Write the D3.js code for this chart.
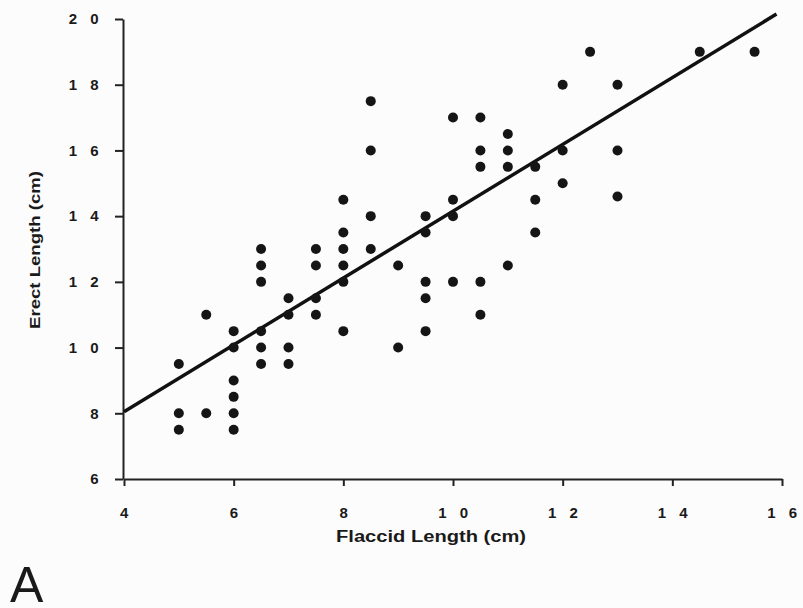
<!DOCTYPE html>
<html lang="en">
<head>
    <meta charset="UTF-8">
    <script type="text/javascript" src="https://cdn.jsdelivr.net/npm/d3@7/dist/d3.min.js"></script>
    <title>Flaccid vs Erect Length</title>
    <style>
        body { margin: 0; background: #fcfcfc; }
        text { font-family: "Liberation Sans", Arial, sans-serif; fill: #1a1a1a; }
    </style>
</head>
<body>

</body>
<script>
    // data (cm)
    var flaccid = [5, 5, 5, 5.5, 5.5, 6, 6, 6, 6, 6, 6,
        6.5, 6.5, 6.5, 6.5, 6.5, 6.5, 7, 7, 7, 7, 7.5, 7.5, 7.5, 7.5,
        8, 8, 8, 8, 8, 8, 8.5, 8.5, 8.5, 8.5, 9, 9,
        9.5, 9.5, 9.5, 9.5, 9.5, 10, 10, 10, 10,
        10.5, 10.5, 10.5, 10.5, 10.5, 11, 11, 11, 11,
        11.5, 11.5, 11.5, 12, 12, 12, 12.5, 13, 13, 13, 14.5, 15.5];
    var erect = [9.5, 8, 7.5, 11, 8, 10.5, 10, 9, 8.5, 8, 7.5,
        13, 12.5, 12, 10.5, 10, 9.5, 11.5, 11, 10, 9.5, 13, 12.5, 11.5, 11,
        14.5, 13.5, 13, 12.5, 12, 10.5, 17.5, 16, 14, 13, 12.5, 10,
        14, 13.5, 12, 11.5, 10.5, 17, 14.5, 14, 12,
        17, 16, 15.5, 12, 11, 16.5, 16, 15.5, 12.5,
        15.5, 14.5, 13.5, 18, 16, 15, 19, 18, 16, 14.6, 19, 19];
    var fitX = [4, 15.9];      // regression line ends
    var fitY = [8.05, 20.15];
    var xTicks = [4, 6, 8, 10, 12, 14, 16];
    var yTicks = [6, 8, 10, 12, 14, 16, 18, 20];

    var width = 803, height = 608;

    var xScale = d3.scaleLinear().domain([4, 16]).range([124, 782]);
    var yScale = d3.scaleLinear().domain([6, 20]).range([479, 19]);

    var svg = d3.select("body")
        .append("svg")
        .attr("width", width)
        .attr("height", height)

    // spaced digits like the original ("1 0")
    var spaced = d => String(d).split("").join(" ");

    var xAxis = svg.append("g")
        .attr("transform", "translate(0," + 479 + ")")
        .call(d3.axisBottom(xScale).tickValues(xTicks).tickSize(7).tickSizeOuter(0).tickPadding(21).tickFormat(spaced))
    var yAxis = svg.append("g")
        .attr("transform", "translate(" + 123 + ",0)")
        .call(d3.axisLeft(yScale).tickValues(yTicks).tickSize(8).tickSizeOuter(0).tickPadding(12).tickFormat(spaced))

    svg.selectAll(".domain, .tick line")
        .attr("stroke", "#222")
        .attr("stroke-width", 2)
    svg.selectAll(".tick text")
        .attr("font-size", 15)
        .attr("font-weight", "bold")
        .style("fill", "#1a1a1a")
        .style("letter-spacing", "4.5px")
        .attr("font-family", "Liberation Sans, Arial, sans-serif")
    xAxis.selectAll(".tick text").attr("dx", 2)

    // axis titles
    svg.append("text")
        .attr("x", 431)
        .attr("y", 542)
        .attr("text-anchor", "middle")
        .attr("font-size", 16)
        .attr("font-weight", "bold")
        .attr("textLength", 190)
        .attr("lengthAdjust", "spacingAndGlyphs")
        .text("Flaccid Length (cm)")

    svg.append("text")
        .attr("transform", "translate(40,250) rotate(-90)")
        .attr("text-anchor", "middle")
        .attr("font-size", 15)
        .attr("font-weight", "bold")
        .attr("textLength", 158)
        .attr("lengthAdjust", "spacingAndGlyphs")
        .text("Erect Length (cm)")

    svg.append("text")
        .attr("x", 10)
        .attr("y", 602)
        .attr("font-size", 50)
        .text("A")

    // regression line
    svg.append("line")
        .attr("x1", xScale(fitX[0]))
        .attr("y1", yScale(fitY[0]))
        .attr("x2", xScale(fitX[1]))
        .attr("y2", yScale(fitY[1]))
        .attr("stroke", "#111")
        .attr("stroke-width", 3.5)

    svg.selectAll("circle")
        .data(flaccid)
        .enter()
        .append("circle")
        .attr("cx", d => xScale(d))
        .attr("cy", (d, i) => yScale(erect[i]))
        .attr("r", 5)
        .attr("fill", "#151515")
</script>
</html>
